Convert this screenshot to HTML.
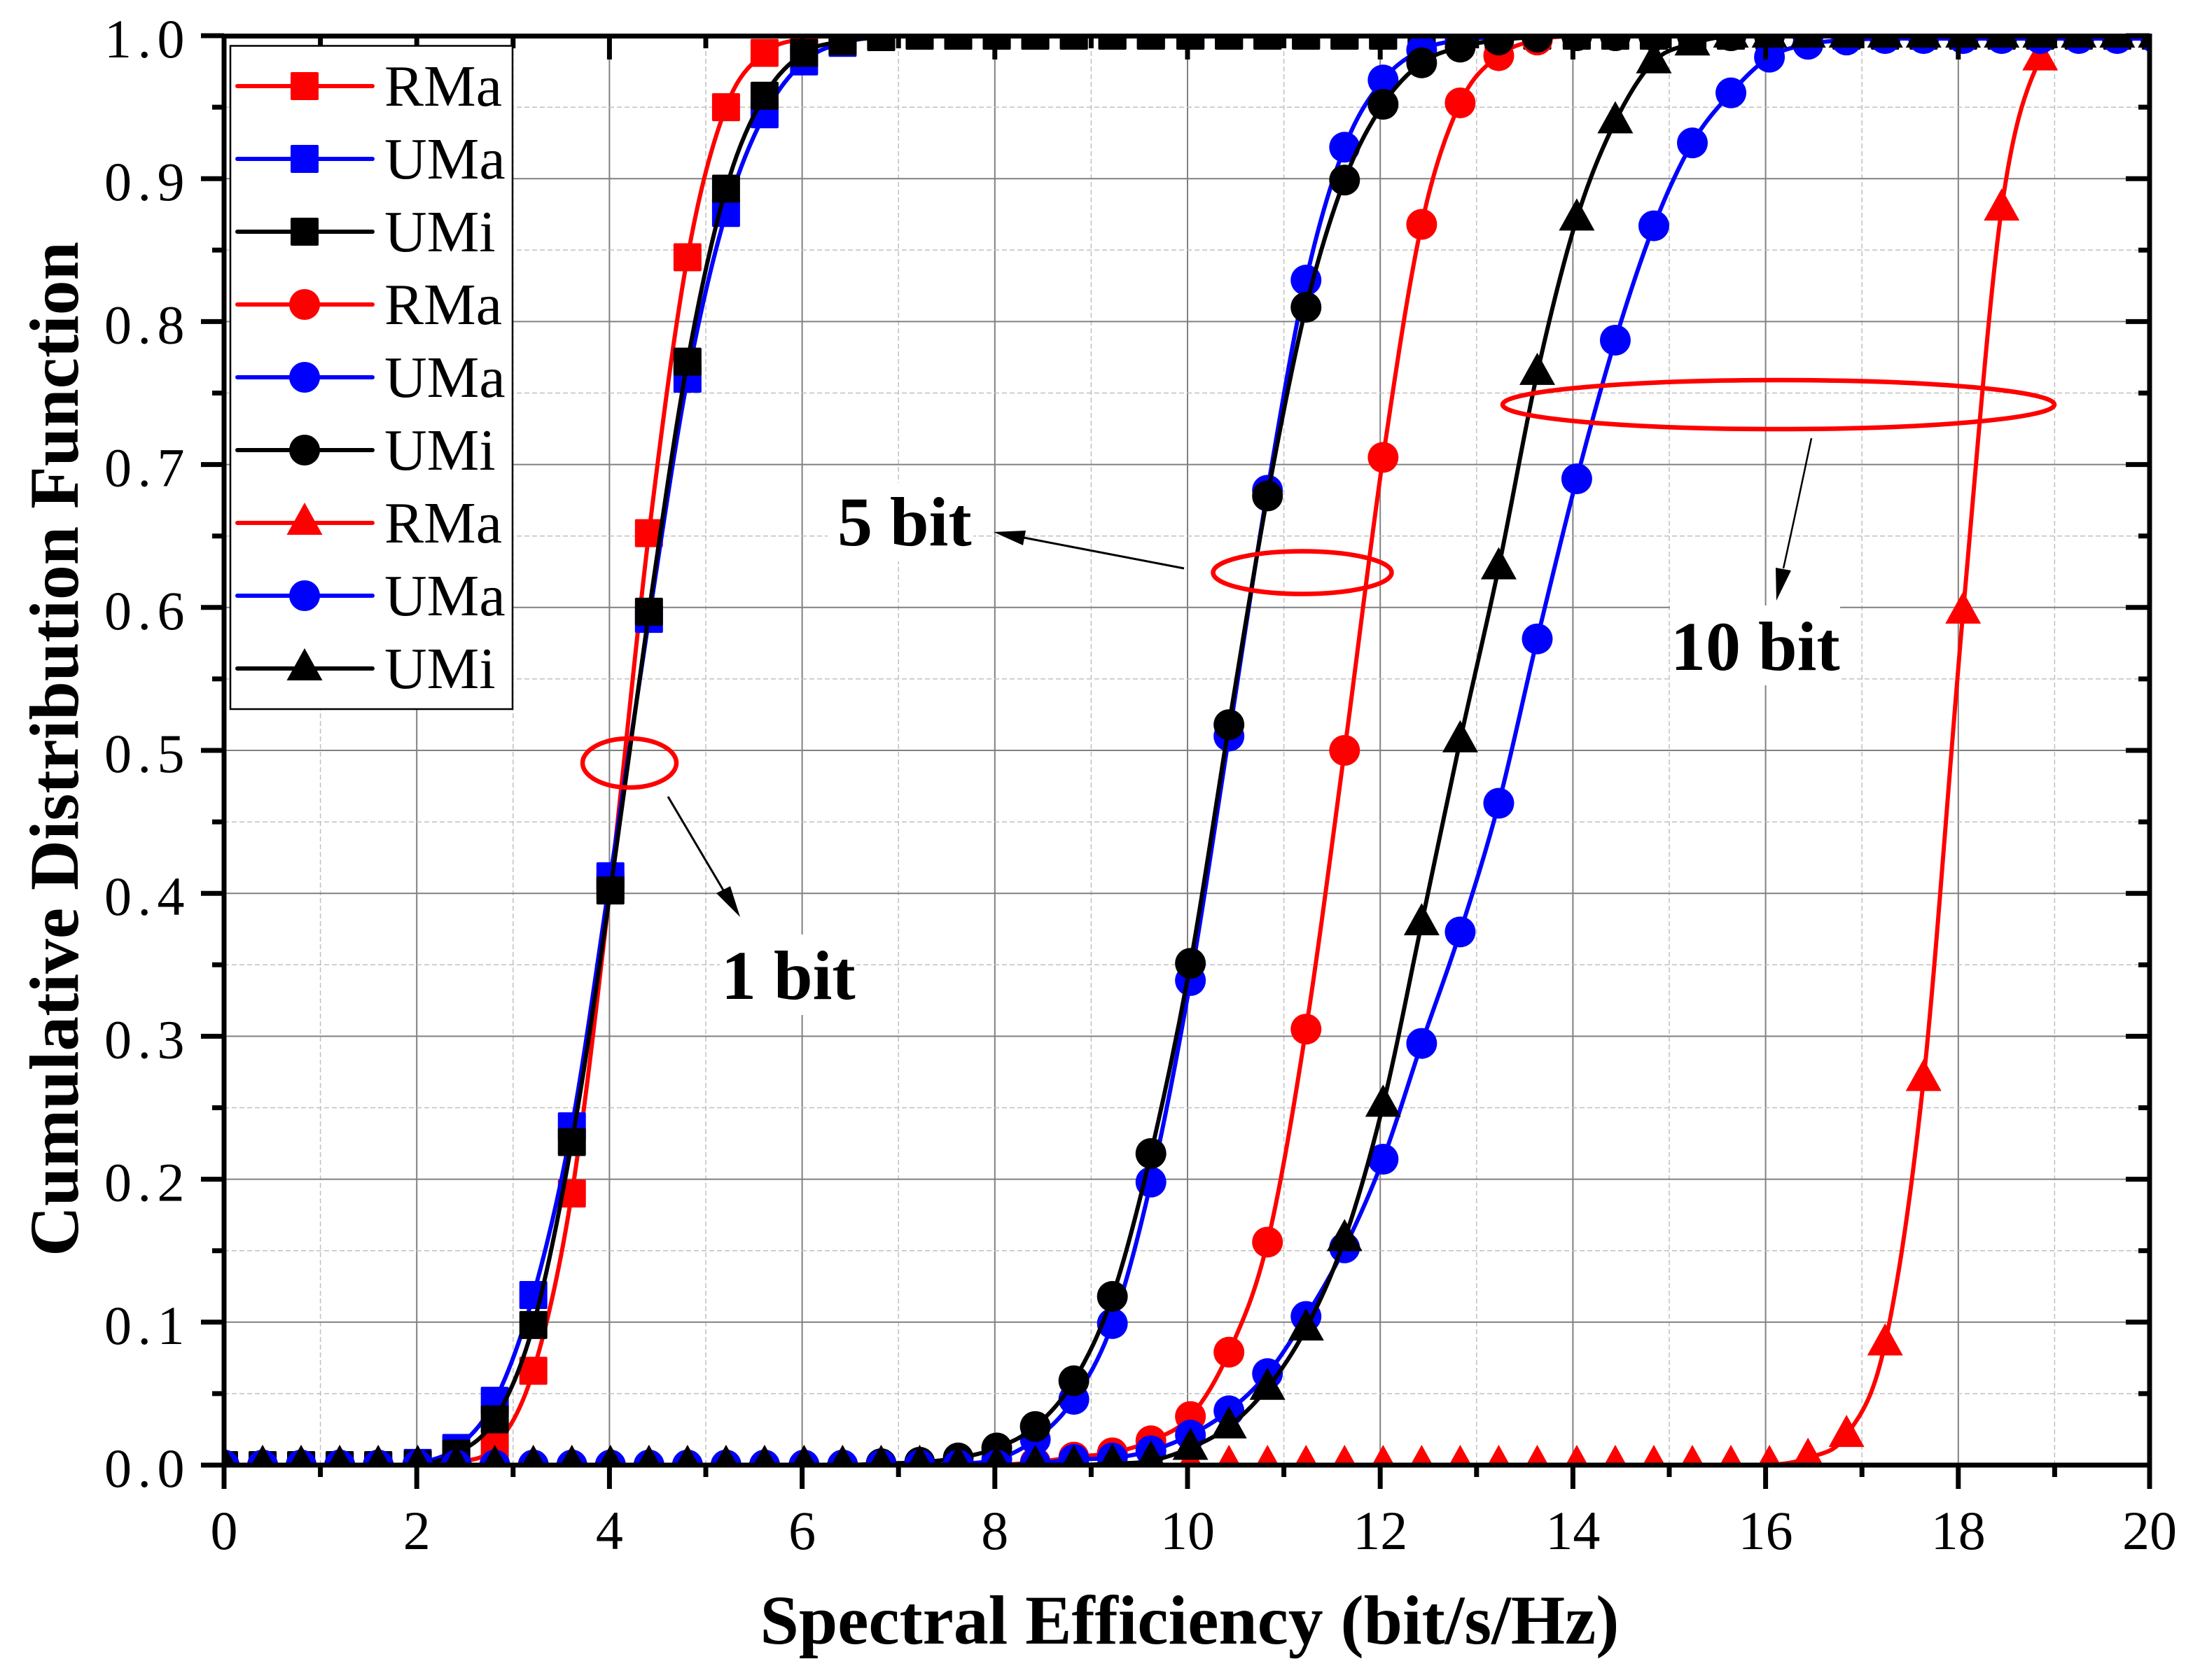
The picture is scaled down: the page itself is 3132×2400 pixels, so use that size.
<!DOCTYPE html>
<html lang="en">
<head>
<meta charset="utf-8">
<title>Cumulative Distribution Function of Spectral Efficiency</title>
<style>
html,body{margin:0;padding:0;background:#fff;}
svg{display:block;}
text{font-family:"Liberation Serif",serif;fill:#000;}
</style>
</head>
<body>
<svg id="chart" xmlns="http://www.w3.org/2000/svg" width="3132" height="2400" viewBox="0 0 3132 2400">
  <defs>
    <clipPath id="plot-clip"><rect x="320" y="48" width="2750" height="2045"/></clipPath>
  </defs>
  <rect x="0" y="0" width="3132" height="2400" fill="#fff"/>
  <g id="grid"></g>
  <g id="series" clip-path="url(#plot-clip)"></g>

  <g>
    <ellipse cx="899" cy="1090" rx="67" ry="35" fill="none" stroke="#ff0000" stroke-width="6.5"/>
    <ellipse cx="1860" cy="818" rx="127.5" ry="30.5" fill="none" stroke="#ff0000" stroke-width="6.5"/>
    <ellipse cx="2540" cy="578" rx="394" ry="35" fill="none" stroke="#ff0000" stroke-width="6.5"/>

    <rect x="1028" y="1335" width="195" height="115" fill="#fff"/>
    <rect x="1182" y="690" width="208" height="112" fill="#fff"/>
    <rect x="2385" y="865" width="243" height="114" fill="#fff"/>

    <line x1="954" y1="1138" x2="1035" y2="1275" stroke="#000" stroke-width="3"/>
    <polygon points="1057,1310 1023,1276 1043,1266" fill="#000"/>
    <line x1="1691" y1="812" x2="1462" y2="768" stroke="#000" stroke-width="3"/>
    <polygon points="1419,760 1465,758 1461,779" fill="#000"/>
    <path d="M2587,626 Q2563,740 2547,812" fill="none" stroke="#000" stroke-width="2.5"/>
    <polygon points="2537,858 2536,811 2558,815" fill="#000"/>

    <text x="1030" y="1427" font-size="100" font-weight="700">1 bit</text>
    <text x="1196" y="779" font-size="100" font-weight="700">5 bit</text>
    <text x="2386" y="957" font-size="100" font-weight="700">10 bit</text>
  </g>

  <g id="axes"></g>
  <g id="legend"></g>

  <text x="1699" y="2348" font-size="99.5" font-weight="700" text-anchor="middle">Spectral Efficiency (bit/s/Hz)</text>
  <text transform="translate(111,1070) rotate(-90)" font-size="99.6" font-weight="700" text-anchor="middle">Cumulative Distribution Function</text>
</svg>

<script>
var xValues = [
  0,0.40,0.80,1.20,1.60,2.01,2.41,2.81,3.21,3.61,
  4.01,4.41,4.81,5.21,5.61,6.02,6.42,6.82,7.22,7.62,
  8.02,8.42,8.82,9.22,9.62,10.03,10.43,10.83,11.23,11.63,
  12.03,12.43,12.83,13.23,13.63,14.04,14.44,14.84,15.24,15.64,
  16.04,16.44,16.84,17.24,17.64,18.05,18.45,18.85,19.25,19.65,
  20.05
];
var rma1Bit = [
  0,0,0,0,0,0,0.002,0.013,0.066,0.19,
  0.405,0.652,0.845,0.95,0.988,0.998,1,1,1,1,
  1,1,1,1,1,1,1,1,1,1,
  1,1,1,1,1,1,1,1,1,1,
  1,1,1,1,1,1,1,1,1,1,
  1
];
var uma1Bit = [
  0,0,0,0,0,0.0015,0.012,0.045,0.119,0.237,
  0.412,0.592,0.76,0.876,0.945,0.982,0.995,0.999,1,1,
  1,1,1,1,1,1,1,1,1,1,
  1,1,1,1,1,1,1,1,1,1,
  1,1,1,1,1,1,1,1,1,1,
  1
];
var umi1Bit = [
  0,0,0,0,0,0.0005,0.008,0.032,0.098,0.226,
  0.402,0.597,0.772,0.893,0.958,0.988,0.996,0.999,1,1,
  1,1,1,1,1,1,1,1,1,1,
  1,1,1,1,1,1,1,1,1,1,
  1,1,1,1,1,1,1,1,1,1,
  1
];
var rma5Bit = [
  0,0,0,0,0,0,0,0,0,0,
  0,0,0,0,0,0,0,0,0,0,
  0,0.002,0.0056,0.0086,0.017,0.034,0.079,0.156,0.305,0.5,
  0.705,0.868,0.953,0.986,0.997,1,1,1,1,1,
  1,1,1,1,1,1,1,1,1,1,
  1
];
var uma5Bit = [
  0,0,0,0,0,0,0,0,0,0,
  0,0,0,0,0,0,0,0,0,0.001,
  0.004,0.018,0.046,0.099,0.198,0.339,0.51,0.682,0.829,0.922,
  0.969,0.99,0.997,0.999,1,1,1,1,1,1,
  1,1,1,1,1,1,1,1,1,1,
  1
];
var umi5Bit = [
  0,0,0,0,0,0,0,0,0,0,
  0,0,0,0,0,0,0,0.001,0.002,0.005,
  0.012,0.027,0.059,0.118,0.218,0.351,0.518,0.678,0.81,0.899,
  0.952,0.981,0.992,0.997,0.999,1,1,1,1,1,
  1,1,1,1,1,1,1,1,1,1,
  1
];
var rma10Bit = [
  0,0,0,0,0,0,0,0,0,0,
  0,0,0,0,0,0,0,0,0,0,
  0,0,0,0,0,0,0,0,0,0,
  0,0,0,0,0,0,0,0,0,0,
  0,0.005,0.021,0.085,0.27,0.597,0.879,0.984,1,1,
  1
];
var uma10Bit = [
  0,0,0,0,0,0,0,0,0,0,
  0,0,0,0,0,0,0,0,0,0,
  0,0.001,0.004,0.005,0.01,0.021,0.038,0.064,0.104,0.152,
  0.214,0.295,0.373,0.463,0.578,0.69,0.787,0.867,0.925,0.96,
  0.985,0.994,0.997,0.998,0.998,0.998,0.998,0.998,0.998,0.998,
  0.998
];
var umi10Bit = [
  0,0,0,0,0,0,0,0,0,0,
  0,0,0,0,0,0,0,0,0,0,
  0,0,0,0.001,0.003,0.012,0.027,0.054,0.0955,0.158,
  0.252,0.379,0.507,0.628,0.764,0.872,0.94,0.982,0.9945,1,
  1,1,1,1,1,1,1,1,1,1,
  1
];
var seriesNames = ["RMa","UMa","UMi","RMa","UMa","UMi","RMa","UMa","UMi"];
var seriesKeys = ["rma-1-bit","uma-1-bit","umi-1-bit","rma-5-bit","uma-5-bit","umi-5-bit","rma-10-bit","uma-10-bit","umi-10-bit"];
var seriesColors = ["#ff0000","#0000ff","#000000","#ff0000","#0000ff","#000000","#ff0000","#0000ff","#000000"];
var seriesShapes = ["square","square","square","circle","circle","circle","triangle","circle","triangle"];
var seriesValues = [rma1Bit,uma1Bit,umi1Bit,rma5Bit,uma5Bit,umi5Bit,rma10Bit,uma10Bit,umi10Bit];
var xTickLabels = ["0","2","4","6","8","10","12","14","16","18","20"];
var yTickLabels = ["0.0","0.1","0.2","0.3","0.4","0.5","0.6","0.7","0.8","0.9","1.0"];

var NS = "http://www.w3.org/2000/svg";
function xPos(v){ return 320 + v * 137.6; }
function yPos(v){ return 2093 - v * 2042; }

function make(tag, attrs, parent){
  var el = document.createElementNS(NS, tag);
  for (var k in attrs) el.setAttribute(k, attrs[k]);
  parent.appendChild(el);
  return el;
}

function drawMarker(shape, cx, cy, color, parent){
  var el;
  if (shape === "square") {
    el = make("rect", {x:cx-20, y:cy-20, width:40, height:40, rx:2, fill:color}, parent);
  } else if (shape === "circle") {
    el = make("circle", {cx:cx, cy:cy, r:22, fill:color}, parent);
  } else {
    el = make("polygon", {points:(cx)+","+(cy-29)+" "+(cx+25.5)+","+(cy+17)+" "+(cx-25.5)+","+(cy+17), fill:color, "stroke-linejoin":"round"}, parent);
  }
  
  
  return el;
}

function smoothPath(xs, ys){
  var d = "M" + xPos(xs[0]).toFixed(1) + "," + yPos(ys[0]).toFixed(1);
  for (var i = 0; i < xs.length - 1; i++) {
    var p0x = xPos(xs[Math.max(i-1,0)]), p0y = yPos(ys[Math.max(i-1,0)]);
    var p1x = xPos(xs[i]), p1y = yPos(ys[i]);
    var p2x = xPos(xs[i+1]), p2y = yPos(ys[i+1]);
    var j = Math.min(i+2, xs.length-1);
    var p3x = xPos(xs[j]), p3y = yPos(ys[j]);
    var c1x = p1x + (p2x-p0x)/6, c1y = p1y + (p2y-p0y)/6;
    var c2x = p2x - (p3x-p1x)/6, c2y = p2y - (p3y-p1y)/6;
    d += " C" + c1x.toFixed(1) + "," + c1y.toFixed(1) + " " + c2x.toFixed(1) + "," + c2y.toFixed(1) + " " + p2x.toFixed(1) + "," + p2y.toFixed(1);
  }
  return d;
}

/* grid */
var gridG = document.getElementById("grid");
xTickLabels.forEach(function(lbl, i){
  var v = Number(lbl);
  var g = make("line", {x1:xPos(v), x2:xPos(v), y1:yPos(0), y2:yPos(1), stroke:"#808080", "stroke-width":2}, gridG);
  
  
  if (i < xTickLabels.length - 1) {
    var m = make("line", {x1:xPos(v+1), x2:xPos(v+1), y1:yPos(0), y2:yPos(1), stroke:"#c0c0c0", "stroke-width":1.5, "stroke-dasharray":"7 4"}, gridG);
    
    
  }
});
yTickLabels.forEach(function(lbl, i){
  var v = Number(lbl);
  var g = make("line", {x1:xPos(0), x2:3070, y1:yPos(v), y2:yPos(v), stroke:"#808080", "stroke-width":2}, gridG);
  
  
  if (i < yTickLabels.length - 1) {
    var m = make("line", {x1:xPos(0), x2:3070, y1:yPos(v+0.05), y2:yPos(v+0.05), stroke:"#c0c0c0", "stroke-width":1.5, "stroke-dasharray":"7 4"}, gridG);
    
    
  }
});

/* series */
var seriesG = document.getElementById("series");
seriesValues.forEach(function(vals, s){
  var group = make("g", {}, seriesG);
  
  
  var line = make("path", {d:smoothPath(xValues, vals), fill:"none", stroke:seriesColors[s], "stroke-width":6, "stroke-linejoin":"round"}, group);
  
  
  vals.forEach(function(v, i){
    drawMarker(seriesShapes[s], xPos(xValues[i]), yPos(v), seriesColors[s], group);
  });
});

/* axes */
var axesG = document.getElementById("axes");
function axisLine(x1,y1,x2,y2,name){
  var l = make("line", {x1:x1,y1:y1,x2:x2,y2:y2,stroke:"#000","stroke-width":7}, axesG);
  
  
}
axisLine(316.5,2093,3073.5,2093,"x-axis-line");
axisLine(316.5,51.5,3073.5,51.5,"top-axis-line");
axisLine(320,48,320,2096.5,"y-axis-line");
axisLine(3070,48,3070,2096.5,"right-axis-line");

xTickLabels.forEach(function(lbl, i){
  var v = Number(lbl);
  var x = Math.min(xPos(v), 3070);
  axisLine(x,2093,x,2127,"x-major-tick");
  axisLine(x,51,x,85,"top-major-tick");
  var t = make("text", {x:x, y:2213, "font-size":78, "text-anchor":"middle"}, axesG);
  t.textContent = lbl;
  
  
  if (i < xTickLabels.length - 1) {
    axisLine(xPos(v+1),2093,xPos(v+1),2110,"x-minor-tick");
    axisLine(xPos(v+1),51,xPos(v+1),69,"top-minor-tick");
  }
});
yTickLabels.forEach(function(lbl, i){
  var v = Number(lbl);
  var y = yPos(v);
  axisLine(287,y,320,y,"y-major-tick");
  axisLine(3036,y,3070,y,"right-major-tick");
  var t = make("text", {x:272, y:y+31, "font-size":78, "text-anchor":"end", "letter-spacing":8.5}, axesG);
  t.textContent = lbl;
  
  
  if (i < yTickLabels.length - 1) {
    axisLine(303,yPos(v+0.05),320,yPos(v+0.05),"y-minor-tick");
    axisLine(3054,yPos(v+0.05),3070,yPos(v+0.05),"right-minor-tick");
  }
});

/* legend */
var legendG = document.getElementById("legend");
var legendBox = make("rect", {x:329, y:65.5, width:403, height:947.5, fill:"#fff", stroke:"#000", "stroke-width":2.5}, legendG);


seriesNames.forEach(function(name, i){
  var y = 123 + i * 104;
  var entry = make("g", {}, legendG);
  
  
  var l = make("line", {x1:339, x2:532, y1:y, y2:y, stroke:seriesColors[i], "stroke-width":6, "stroke-linecap":"round"}, entry);
  
  
  drawMarker(seriesShapes[i], 435, y, seriesColors[i], entry);
  var t = make("text", {x:549, y:y+28, "font-size":84}, entry);
  t.textContent = name;
  
  
});
</script>
</body>
</html>
